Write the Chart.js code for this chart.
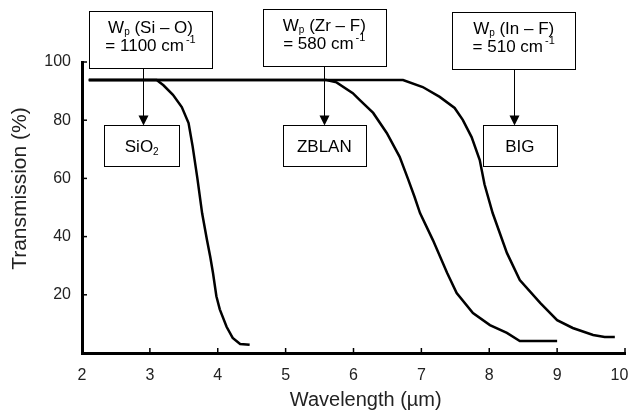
<!DOCTYPE html>
<html>
<head>
<meta charset="utf-8">
<script src="https://cdn.jsdelivr.net/npm/chart.js@4"></script>
<style>
  html, body { margin: 0; padding: 0; background: #fff; }
  #wrap { width: 629px; height: 417px; }
</style>
</head>
<body>
<div id="wrap"><canvas id="chart"></canvas></div>
<script>
// Transmission curves (wavelength in um, transmission in %)
const sio2Wave  = [2.1, 3.1, 3.2, 3.34, 3.47, 3.57, 3.63, 3.7, 3.77, 3.84, 3.89, 3.93, 3.98, 4.03, 4.13, 4.22, 4.33, 4.47];
const sio2Trans = [93.8, 93.8, 92, 88.7, 84.5, 79, 71, 60, 48, 39, 33, 27.5, 19.5, 15, 9, 5.2, 3.1, 2.8];

const zblanWave  = [2.1, 5.6, 5.75, 5.99, 6.09, 6.29, 6.49, 6.68, 6.8, 6.9, 6.98, 7.17, 7.38, 7.52, 7.76, 8.01, 8.26, 8.45, 9.0];
const zblanTrans = [93.8, 93.8, 93, 89.3, 87, 82.5, 75.6, 67.4, 60, 53.6, 48.1, 38.8, 27.5, 20.6, 13.7, 9.6, 6.9, 4.1, 4.1];

const bigWave  = [2.1, 6.73, 7.02, 7.27, 7.49, 7.61, 7.74, 7.86, 7.93, 8.05, 8.26, 8.45, 8.75, 9.0, 9.23, 9.53, 9.7, 9.85];
const bigTrans = [93.8, 93.8, 91.4, 88, 84.2, 80.1, 74.2, 66.3, 58, 48.1, 34.4, 25.1, 17.2, 11.3, 8.6, 6.2, 5.5, 5.5];

// Tick labels
const xTicks = [2, 3, 4, 5, 6, 7, 8, 9, 10];
const yTicks = [20, 40, 60, 80, 100];

// Callout text: bond, frequency, glass name, and where the arrow points (wavelength)
const bonds  = ['(Si \u2013 O)', '(Zr \u2013 F)', '(In \u2013 F)'];
const freqs  = ['= 1100 cm', '= 580 cm', '= 510 cm'];
const glasses = ['SiO2', 'ZBLAN', 'BIG'];
const arrowAt = [2.9, 5.57, 8.36];

function toPoints(xs, ys) {
    return xs.map((x, i) => ({ x: x, y: ys[i] }));
}

const FONT = '"Liberation Sans", Arial, sans-serif';
const TXT = 17;   // callout font size
const SUB = 10;   // subscript size
const SUP = 11;   // superscript size

// Draws the callout boxes, arrows, inward tick marks and the axis titles
const calloutPlugin = {
    id: 'callouts',
    afterDraw(chart) {
        const ctx = chart.ctx;
        const xs = chart.scales.x;
        const ys = chart.scales.y;
        const area = chart.chartArea;
        ctx.save();

        // inward tick marks
        ctx.strokeStyle = '#000';
        ctx.lineWidth = 1.5;
        xTicks.forEach(v => {
            const px = xs.getPixelForValue(v);
            ctx.beginPath();
            ctx.moveTo(px, area.bottom);
            ctx.lineTo(px, area.bottom - 5);
            ctx.stroke();
        });
        yTicks.forEach(v => {
            const py = ys.getPixelForValue(v);
            ctx.beginPath();
            ctx.moveTo(area.left, py);
            ctx.lineTo(area.left + 5, py);
            ctx.stroke();
        });

        // axis titles, both sit a little off centre in the original
        ctx.fillStyle = '#222';
        ctx.font = '20px ' + FONT;
        ctx.textAlign = 'center';
        ctx.textBaseline = 'middle';
        ctx.fillText('Wavelength (\u00b5m)', xs.getPixelForValue(6.18), area.bottom + 47);
        ctx.save();
        ctx.translate(20, ys.getPixelForValue(56.5));
        ctx.rotate(-Math.PI / 2);
        ctx.font = '21px ' + FONT;
        ctx.fillText('Transmission (%)', 0, 0);
        ctx.restore();

        ctx.fillStyle = '#000';
        ctx.textBaseline = 'alphabetic';
        const topBoxes = [
            { cx: 3.01, w: 123, top: 11 },
            { cx: 5.57, w: 123, top: 9 },
            { cx: 8.36, w: 123, top: 12 }
        ];
        const lowBoxes = [
            { cx: 2.88, w: 75 },
            { cx: 5.57, w: 83 },
            { cx: 8.45, w: 74 }
        ];
        topBoxes.forEach((b, i) => {
            const cx = xs.getPixelForValue(b.cx);
            const left = Math.round(cx - b.w / 2) + 0.5;
            const top = b.top + 0.5;
            const h = 57;
            ctx.lineWidth = 1;
            ctx.strokeStyle = '#000';
            ctx.strokeRect(left, top, b.w, h);
            ctx.textAlign = 'left';

            // line 1: W_p (bond)
            ctx.font = TXT + 'px ' + FONT;
            const wW = ctx.measureText('W').width;
            ctx.font = SUB + 'px ' + FONT;
            const pW = ctx.measureText('p').width;
            ctx.font = TXT + 'px ' + FONT;
            const bW = ctx.measureText(' ' + bonds[i]).width;
            const x0 = cx - (wW + pW + bW) / 2;
            const y1 = top + 21;
            ctx.fillText('W', x0, y1);
            ctx.font = SUB + 'px ' + FONT;
            ctx.fillText('p', x0 + wW, y1 + 2);
            ctx.font = TXT + 'px ' + FONT;
            ctx.fillText(' ' + bonds[i], x0 + wW + pW, y1);

            // line 2: = N cm^-1
            const fW = ctx.measureText(freqs[i]).width;
            ctx.font = SUP + 'px ' + FONT;
            const sW = ctx.measureText('-1').width;
            const x1 = cx - (fW + sW + 2) / 2;
            const y2 = top + 39;
            ctx.font = TXT + 'px ' + FONT;
            ctx.fillText(freqs[i], x1, y2);
            ctx.font = SUP + 'px ' + FONT;
            ctx.fillText('-1', x1 + fW + 2, y2 - 8);

            // arrow down to the glass label
            const ax = Math.round(xs.getPixelForValue(arrowAt[i])) + 0.5;
            const lowTop = 125.5;
            ctx.beginPath();
            ctx.moveTo(ax, top + h);
            ctx.lineTo(ax, lowTop - 8);
            ctx.stroke();
            ctx.beginPath();
            ctx.moveTo(ax - 5, lowTop - 10);
            ctx.lineTo(ax + 5, lowTop - 10);
            ctx.lineTo(ax, lowTop);
            ctx.closePath();
            ctx.fill();

            // glass label box
            const lb = lowBoxes[i];
            const lcx = xs.getPixelForValue(lb.cx);
            const ll = Math.round(lcx - lb.w / 2) + 0.5;
            ctx.fillStyle = '#fff';
            ctx.fillRect(ll, lowTop, lb.w, 41);
            ctx.fillStyle = '#000';
            ctx.strokeRect(ll, lowTop, lb.w, 41);
            ctx.font = TXT + 'px ' + FONT;
            const ly = lowTop + 26;
            if (glasses[i] === 'SiO2') {
                const siW = ctx.measureText('SiO').width;
                ctx.font = SUB + 'px ' + FONT;
                const twoW = ctx.measureText('2').width;
                const sx = lcx - (siW + twoW) / 2;
                ctx.font = TXT + 'px ' + FONT;
                ctx.fillText('SiO', sx, ly);
                ctx.font = SUB + 'px ' + FONT;
                ctx.fillText('2', sx + siW, ly + 3);
            } else {
                ctx.textAlign = 'center';
                ctx.fillText(glasses[i], lcx, ly);
                ctx.textAlign = 'left';
            }
        });
        ctx.restore();
    }
};

const lineStyle = {
    showLine: true,
    borderColor: '#000',
    backgroundColor: '#000',
    borderWidth: 2.5,
    pointRadius: 0,
    tension: 0,
    fill: false
};

new Chart(document.getElementById('chart'), {
    type: 'scatter',
    data: {
        datasets: [
            Object.assign({ label: 'SiO2', data: toPoints(sio2Wave, sio2Trans) }, lineStyle),
            Object.assign({ label: 'ZBLAN', data: toPoints(zblanWave, zblanTrans) }, lineStyle),
            Object.assign({ label: 'BIG', data: toPoints(bigWave, bigTrans) }, lineStyle)
        ]
    },
    options: {
        responsive: true,
        maintainAspectRatio: false,
        animation: false,
        layout: { padding: { left: 0, top: 62, right: 4, bottom: 0 } },
        plugins: {
            legend: { display: false },
            tooltip: { enabled: false }
        },
        scales: {
            x: {
                type: 'linear',
                min: 2,
                max: 10,
                afterBuildTicks: s => { s.ticks = xTicks.map(v => ({ value: v })); },
                grid: { display: false, drawTicks: false },
                border: { display: true, color: '#000', width: 3 },
                ticks: {
                    color: '#222',
                    font: { family: FONT, size: 16 },
                    padding: 13,
                    maxRotation: 0,
                    // the last label is squeezed in against the right edge
                    callback: v => v === 10 ? '10\u2002\u2009' : String(v)
                },
                afterFit: s => { s.height = 64; s.paddingLeft = 0; s.paddingRight = 0; }
            },
            y: {
                type: 'linear',
                min: 0,
                max: 100,
                afterBuildTicks: s => { s.ticks = yTicks.map(v => ({ value: v })); },
                grid: { display: false, drawTicks: false },
                border: { display: true, color: '#000', width: 3 },
                ticks: { color: '#222', font: { family: FONT, size: 16 }, padding: 11 },
                afterFit: s => { s.width = 82; s.paddingTop = 0; s.paddingBottom = 0; }
            }
        }
    },
    plugins: [calloutPlugin]
});
</script>
</body>
</html>
